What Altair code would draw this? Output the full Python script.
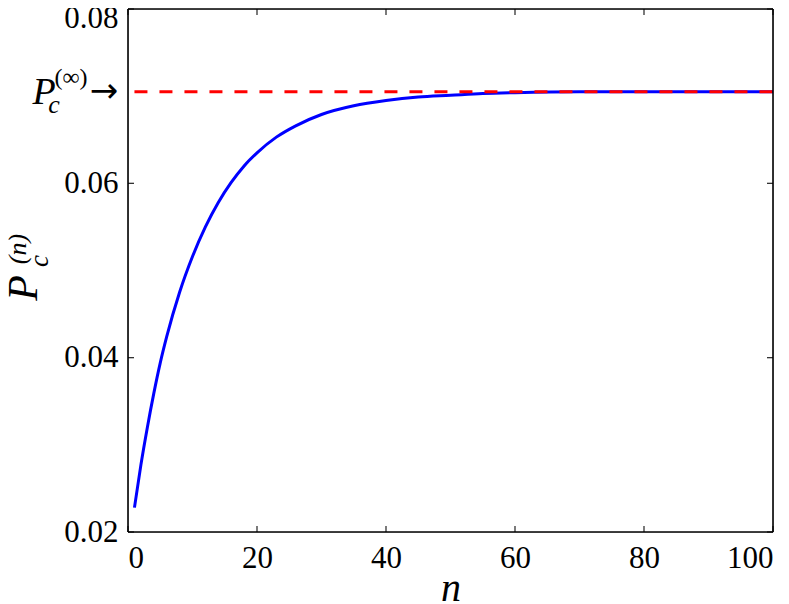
import altair as alt
import pandas as pd

# Curve P_c^(n)
n_vals = [1, 2, 3, 4, 5, 6, 8, 10, 12, 14, 16, 18, 20, 23, 26, 30, 35, 40, 45, 50, 55, 60, 70, 80, 90, 100]
p_vals = [0.0228, 0.0277, 0.0320, 0.0359, 0.0394, 0.0424, 0.0475, 0.0516, 0.0550, 0.0578, 0.0601, 0.0620,
          0.0635, 0.0653, 0.0666, 0.0679, 0.0689, 0.0695, 0.0699, 0.0701, 0.0703, 0.0704, 0.0705, 0.0705,
          0.0705, 0.0705]
p_inf = 0.0705
x_ticks = [0, 20, 40, 60, 80, 100]
y_ticks = [0.02, 0.04, 0.06, 0.08]

W, H = 645, 523
SERIF = "Liberation Serif"

curve_df = pd.DataFrame({"n": n_vals, "P": p_vals})
limit_df = pd.DataFrame({"n0": [1], "n1": [100], "P": [p_inf]})
xt_df = pd.DataFrame({"t": x_ticks})
yt_df = pd.DataFrame({"t": y_ticks})

xscale = alt.Scale(domain=[0, 100], nice=False, zero=False)
yscale = alt.Scale(domain=[0.02, 0.08], nice=False, zero=False)

xaxis = alt.Axis(values=x_ticks, format="d", title="n", titleFont=SERIF, titleFontStyle="italic",
                 titleFontWeight="normal", titleFontSize=40, titleColor="black", titlePadding=-5,
                 labelFont=SERIF, labelFontSize=31, labelColor="black", labelPadding=11,
                 ticks=False, tickSize=0, domain=False, grid=False)
yaxis = alt.Axis(values=y_ticks, format=".2f", title=None,
                 labelFont=SERIF, labelFontSize=31, labelColor="black", labelPadding=10,
                 labelOffset=alt.condition("datum.value >= 0.079", alt.value(9), alt.value(0)),
                 ticks=False, tickSize=0, domain=False, grid=False)

curve = alt.Chart(curve_df).mark_line(color="#0000ff", strokeWidth=3, interpolate="monotone").encode(
    x=alt.X("n:Q", scale=xscale, axis=xaxis),
    y=alt.Y("P:Q", scale=yscale, axis=yaxis),
)

limit = alt.Chart(limit_df).mark_rule(color="#ff0000", strokeWidth=3, strokeDash=[13, 12]).encode(
    x=alt.X("n0:Q", scale=xscale),
    x2="n1:Q",
    y=alt.Y("P:Q", scale=yscale),
)

tick_style = dict(color="#333333", strokeWidth=1.3)
bottom_ticks = alt.Chart(xt_df).mark_rule(**tick_style).encode(
    x=alt.X("t:Q", scale=xscale), y=alt.value(H), y2=alt.value(H - 6))
top_ticks = alt.Chart(xt_df).mark_rule(**tick_style).encode(
    x=alt.X("t:Q", scale=xscale), y=alt.value(0), y2=alt.value(6))
left_ticks = alt.Chart(yt_df).mark_rule(**tick_style).encode(
    y=alt.Y("t:Q", scale=yscale), x=alt.value(0), x2=alt.value(6))
right_ticks = alt.Chart(yt_df).mark_rule(**tick_style).encode(
    y=alt.Y("t:Q", scale=yscale), x=alt.value(W), x2=alt.value(W - 6))

one = pd.DataFrame({"a": [0]})
frame_style = dict(color="black", strokeWidth=1.6)
frame = [
    alt.Chart(one).mark_rule(**frame_style).encode(x=alt.value(0), x2=alt.value(W), y=alt.value(0)),
    alt.Chart(one).mark_rule(**frame_style).encode(x=alt.value(0), x2=alt.value(W), y=alt.value(H)),
    alt.Chart(one).mark_rule(**frame_style).encode(x=alt.value(0), y=alt.value(0), y2=alt.value(H)),
    alt.Chart(one).mark_rule(**frame_style).encode(x=alt.value(W), y=alt.value(0), y2=alt.value(H)),
]


def txt(s, x, y, size, italic=True, angle=0, font=SERIF):
    kw = dict(text=s, fontSize=size, font=font, color="black", align="center", baseline="middle")
    if italic:
        kw["fontStyle"] = "italic"
    if angle:
        kw["angle"] = angle
    return alt.Chart(one).mark_text(**kw).encode(x=alt.value(x), y=alt.value(y))


# y-axis title  P_c^(n)  (rotated)
ylab = [
    txt("P", -104, 279, 42, angle=270),
    txt("c", -88, 252, 27, angle=270),
    txt("(n)", -110, 240, 26, angle=270),
]
# annotation  P_c^(inf) ->
ann = [
    txt("P", -84, 84, 38),
    txt("c", -74, 96, 26),
    txt("(∞)", -57, 69, 24, italic=False),
    txt("→", -24, 83, 34, italic=False, font="DejaVu Sans"),
]

chart = alt.layer(curve, limit, bottom_ticks, top_ticks, left_ticks, right_ticks, *frame, *ylab, *ann).properties(
    width=W, height=H,
    autosize=alt.AutoSizeParams(type="none"),
    padding={"left": 120, "top": 1, "right": 7, "bottom": 72},
).configure_view(stroke=None).configure(background="white")

chart.save("out.html", embed_options={"renderer": "svg", "actions": False})
